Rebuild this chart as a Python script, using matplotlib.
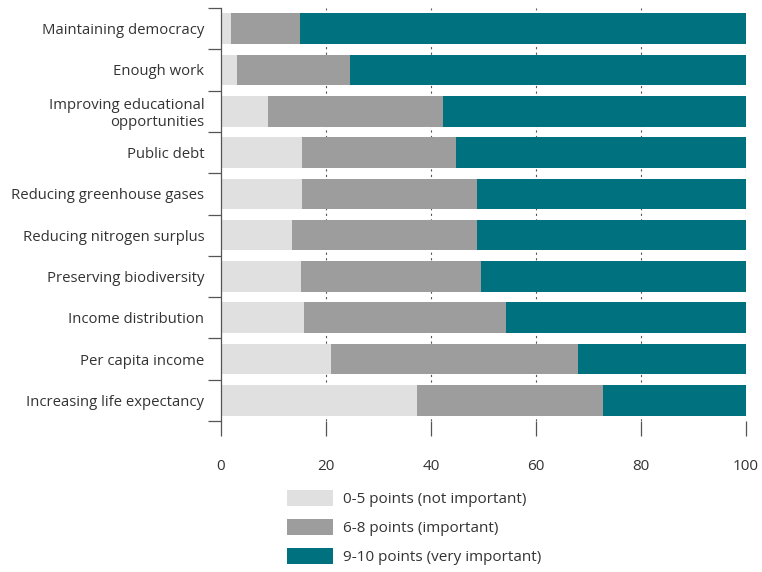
import matplotlib
matplotlib.use("Agg")
import matplotlib.pyplot as plt
from matplotlib.patches import Patch

categories = ["Maintaining democracy", "Enough work", "Improving educational\nopportunities",
              "Public debt", "Reducing greenhouse gases", "Reducing nitrogen surplus",
              "Preserving biodiversity", "Income distribution", "Per capita income",
              "Increasing life expectancy"]
not_important = [1.9, 3.0, 9.0, 15.5, 15.5, 13.6, 15.2, 15.8, 21.0, 37.3]
important = [13.1, 21.6, 33.3, 29.3, 33.2, 35.2, 34.4, 38.4, 47.0, 35.5]
very_important = [100 - a - b for a, b in zip(not_important, important)]
series_labels = ["0-5 points (not important)", "6-8 points (important)", "9-10 points (very important)"]
colors = ["#e0e0e0", "#9d9d9d", "#00717f"]
xticks = [0, 20, 40, 60, 80, 100]

plt.rcParams['font.family'] = ['Open Sans', 'DejaVu Sans']
text_color = "#333333"

fig = plt.figure(figsize=(7.62, 5.72), dpi=100)
ax = fig.add_axes([221/762, 1 - 421/572, (746-221)/762, (421-8)/572])

y = list(range(len(categories)))
h = 0.74
left = [0]*len(y)
for vals, c in zip([not_important, important, very_important], colors):
    ax.barh(y, vals, left=left, height=h, color=c, zorder=2, edgecolor="none")
    left = [l + v for l, v in zip(left, vals)]

ax.set_ylim(len(categories) - 0.5, -0.5)
ax.set_xlim(0, 100)

# gridlines
for xv in xticks[1:]:
    ax.axvline(xv, color="#555555", linestyle=(0, (2, 3)), linewidth=0.8, zorder=1)

ax.set_yticks([i - 0.5 for i in range(len(categories) + 1)])
ax.set_yticklabels([])
ax.set_yticks(y, minor=True)
ax.set_yticklabels(categories, minor=True, fontsize=10.7, color=text_color, ha="right")
ax.tick_params(axis="y", which="major", length=9.5, width=0.9, color="#555555", direction="out")
ax.tick_params(axis="y", which="minor", length=0, pad=12)

ax.set_xticks(xticks)
ax.set_xticklabels([str(x) for x in xticks], fontsize=11, color=text_color)
ax.tick_params(axis="x", length=11, width=0.9, color="#555555", direction="out", pad=16)

for s in ["top", "right", "bottom"]:
    ax.spines[s].set_visible(False)
ax.spines["left"].set_color("#555555")
ax.spines["left"].set_linewidth(0.9)

handles = [Patch(facecolor=c, edgecolor="none") for c in colors]
fig.legend(handles, series_labels, loc="upper left", bbox_to_anchor=(273/762, 1 - 476/572),
           frameon=False, fontsize=11, handlelength=3.0, handleheight=1.3,
           labelspacing=0.75, handletextpad=0.7, labelcolor=text_color)

fig.savefig("out.png", dpi=100)
